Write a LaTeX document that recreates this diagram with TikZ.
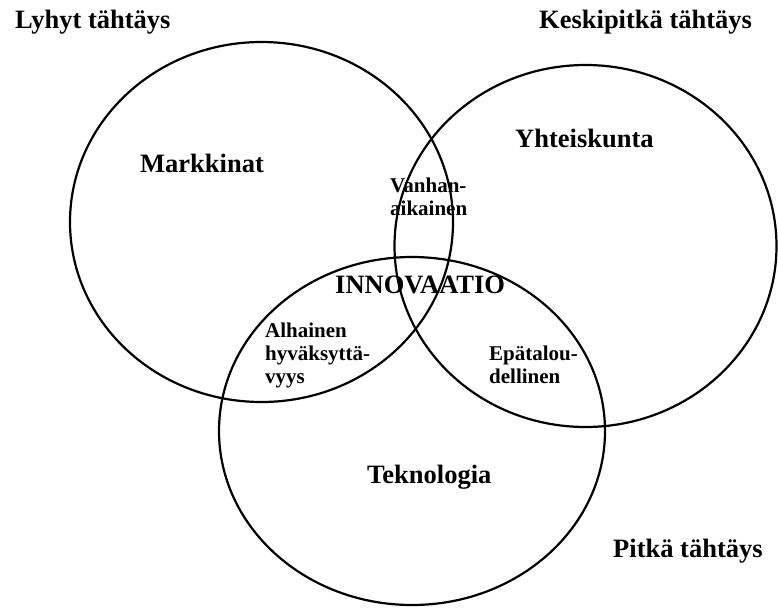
\documentclass[tikz,border=0pt]{standalone}
\usepackage{fontspec}
\setmainfont{Liberation Serif}
\usetikzlibrary{shapes.geometric}
\begin{document}
\begin{tikzpicture}[x=1pt,y=-1pt,
  ring/.style={draw=black, line width=2.2pt, ellipse, inner sep=0pt, outer sep=0pt},
  big/.style={anchor=base west, inner sep=0pt, font=\fontsize{26.5}{30}\selectfont\bfseries},
  small/.style={anchor=base west, inner sep=0pt, font=\fontsize{21}{23}\selectfont\bfseries}]
\useasboundingbox (0,0) rectangle (778,608);
\node[ring, minimum width=383pt, minimum height=360pt] (markk) at (261.5,222) {};
\node[ring, minimum width=382pt, minimum height=362pt] (yht) at (585.5,246) {};
\node[ring, minimum width=386pt, minimum height=348pt] (tekn) at (412,431) {};
\node[big] (lyhyt) at (15,28) {Lyhyt tähtäys};
\node[big] (keski) at (539,28) {Keskipitkä tähtäys};
\node[big] (pitka) at (613,557) {Pitkä tähtäys};
\node[big] (lmark) at (140,172) {Markkinat};
\node[big] (lyht) at (515,147) {Yhteiskunta};
\node[big] (ltek) at (367,483) {Teknologia};
\node[big] (innov) at (335,293) {INNOVAATIO};
\node[small] (vanh) at (390,192) {\begin{tabular}[t]{@{}l@{}}Vanhan-\\aikainen\end{tabular}};
\node[small] (alh) at (265,337) {\begin{tabular}[t]{@{}l@{}}Alhainen\\hyväksyttä-\\vyys\end{tabular}};
\node[small] (epat) at (489,360) {\begin{tabular}[t]{@{}l@{}}Epätalou-\\dellinen\end{tabular}};
\end{tikzpicture}
\end{document}
